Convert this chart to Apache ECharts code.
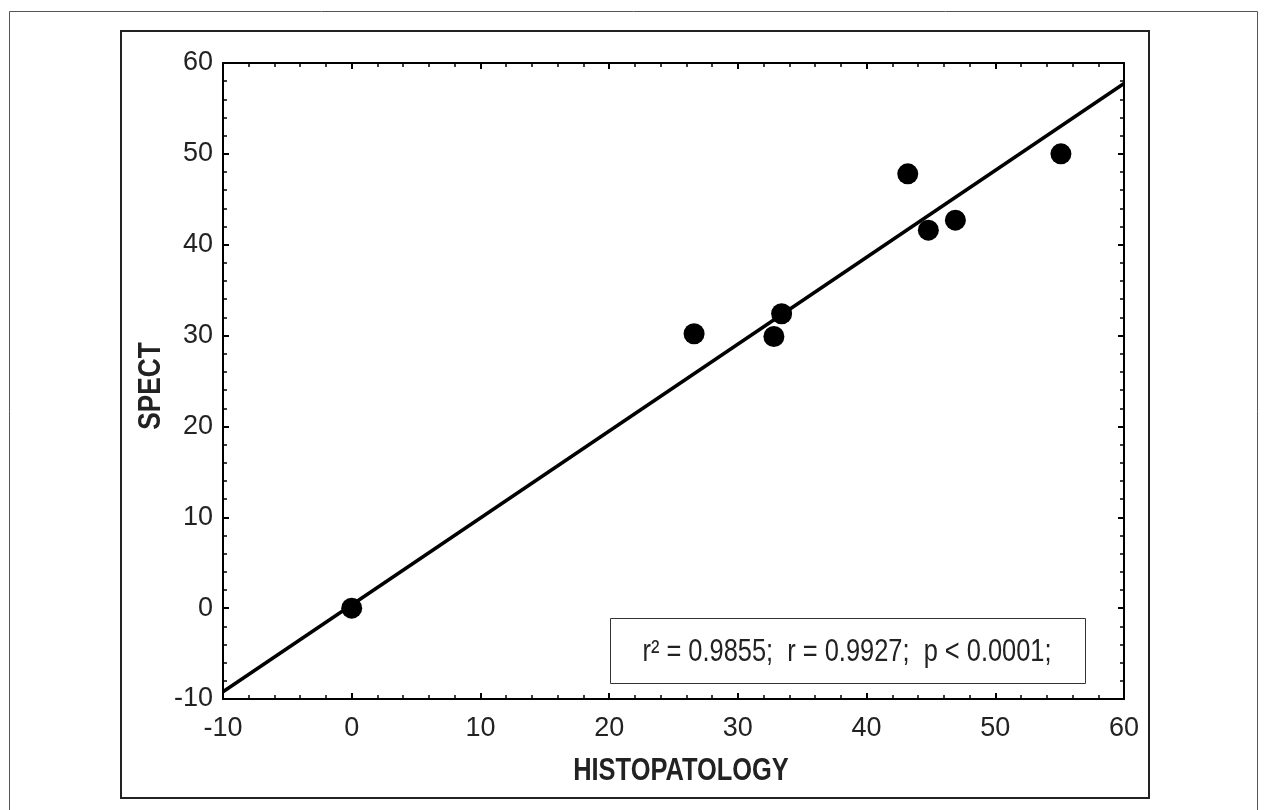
<!DOCTYPE html>
<html>
<head>
<meta charset="utf-8">
<script src="https://cdn.jsdelivr.net/npm/echarts@6/dist/echarts.min.js"></script>
<style>
html,body{margin:0;padding:0;background:#fff;}
#chart{width:1267px;height:810px;}
</style>
</head>
<body>
<div id="chart"></div>
<script>
// Data
var histoX = [0, 26.6, 32.8, 33.4, 43.2, 44.8, 46.9, 55.1];
var spectY = [0, 30.2, 29.9, 32.4, 47.8, 41.6, 42.7, 50.0];
var fitX = [-10, 60];
var fitY = [-9.21, 57.75];
var xTicks = [-10, 0, 10, 20, 30, 40, 50, 60];
var yTicks = [-10, 0, 10, 20, 30, 40, 50, 60];
var xTitle = 'HISTOPATOLOGY';
var yTitle = 'SPECT';
var statText = 'r\u00B2 = 0.9855;  r = 0.9927;  p < 0.0001;';

var FONT = '"Liberation Sans", Arial, sans-serif';

var pts = histoX.map(function (x, i) { return [x, spectY[i]]; });
var fit = fitX.map(function (x, i) { return [x, fitY[i]]; });

var chart = echarts.init(document.getElementById('chart'), null, { renderer: 'canvas' });

function axisCommon(showLabel) {
  return {
    type: 'value',
    min: -10, max: 60, interval: 10,
    axisLine: { show: true, onZero: false, lineStyle: { color: '#000', width: 2 } },
    axisTick: { show: true, inside: true, length: 6, lineStyle: { color: '#000', width: 2 } },
    minorTick: { show: true, splitNumber: 5, length: 4, lineStyle: { color: '#000', width: 1.5 } },
    splitLine: { show: false },
    minorSplitLine: { show: false },
    axisLabel: {
      show: showLabel, color: '#222', fontSize: 27, fontFamily: FONT, margin: 14
    }
  };
}

var xBottom = axisCommon(true);
xBottom.position = 'bottom';
xBottom.axisLabel.margin = 16;

var xTop = axisCommon(false);
xTop.position = 'top';

var yLeft = axisCommon(true);
yLeft.position = 'left';
yLeft.axisLabel.margin = 10;

var yRight = axisCommon(false);
yRight.position = 'right';

chart.setOption({
  animation: false,
  backgroundColor: '#fff',
  grid: { left: 223, right: 143, top: 63, bottom: 111, containLabel: false },
  xAxis: [xBottom, xTop],
  yAxis: [yLeft, yRight],
  series: [
    {
      type: 'line',
      data: fit,
      xAxisIndex: 0, yAxisIndex: 0,
      showSymbol: false,
      symbol: 'none',
      lineStyle: { color: '#000', width: 3.5 },
      z: 2
    },
    {
      type: 'scatter',
      data: pts,
      xAxisIndex: 0, yAxisIndex: 0,
      symbol: 'circle',
      symbolSize: 21,
      itemStyle: { color: '#000', opacity: 1 },
      z: 3
    }
  ],
  graphic: [
    {
      type: 'rect', silent: true, z: -1,
      shape: { x: 9.5, y: 11.5, width: 1248, height: 820 },
      style: { fill: 'none', stroke: '#555', lineWidth: 1 }
    },
    {
      type: 'rect', silent: true, z: -1,
      shape: { x: 121, y: 31, width: 1028, height: 767 },
      style: { fill: 'none', stroke: '#222', lineWidth: 2 }
    },
    {
      type: 'rect', silent: true, z: 10,
      shape: { x: 610.5, y: 618.5, width: 475, height: 65 },
      style: { fill: '#fff', stroke: '#333', lineWidth: 1 }
    },
    {
      type: 'text', silent: true, z: 11,
      x: 847, y: 652, scaleX: 0.82,
      style: {
        text: statText,
        fill: '#222',
        font: '31px ' + FONT,
        align: 'center',
        verticalAlign: 'middle'
      }
    },
    {
      type: 'text', silent: true, z: 11,
      x: 681, y: 771, scaleX: 0.82,
      style: {
        text: xTitle,
        fill: '#222',
        font: 'bold 31px ' + FONT,
        align: 'center',
        verticalAlign: 'middle'
      }
    },
    {
      type: 'text', silent: true, z: 11,
      x: 151, y: 386, scaleX: 0.82, rotation: Math.PI / 2,
      style: {
        text: yTitle,
        fill: '#222',
        font: 'bold 32px ' + FONT,
        align: 'center',
        verticalAlign: 'middle'
      }
    }
  ]
});
</script>
</body>
</html>
